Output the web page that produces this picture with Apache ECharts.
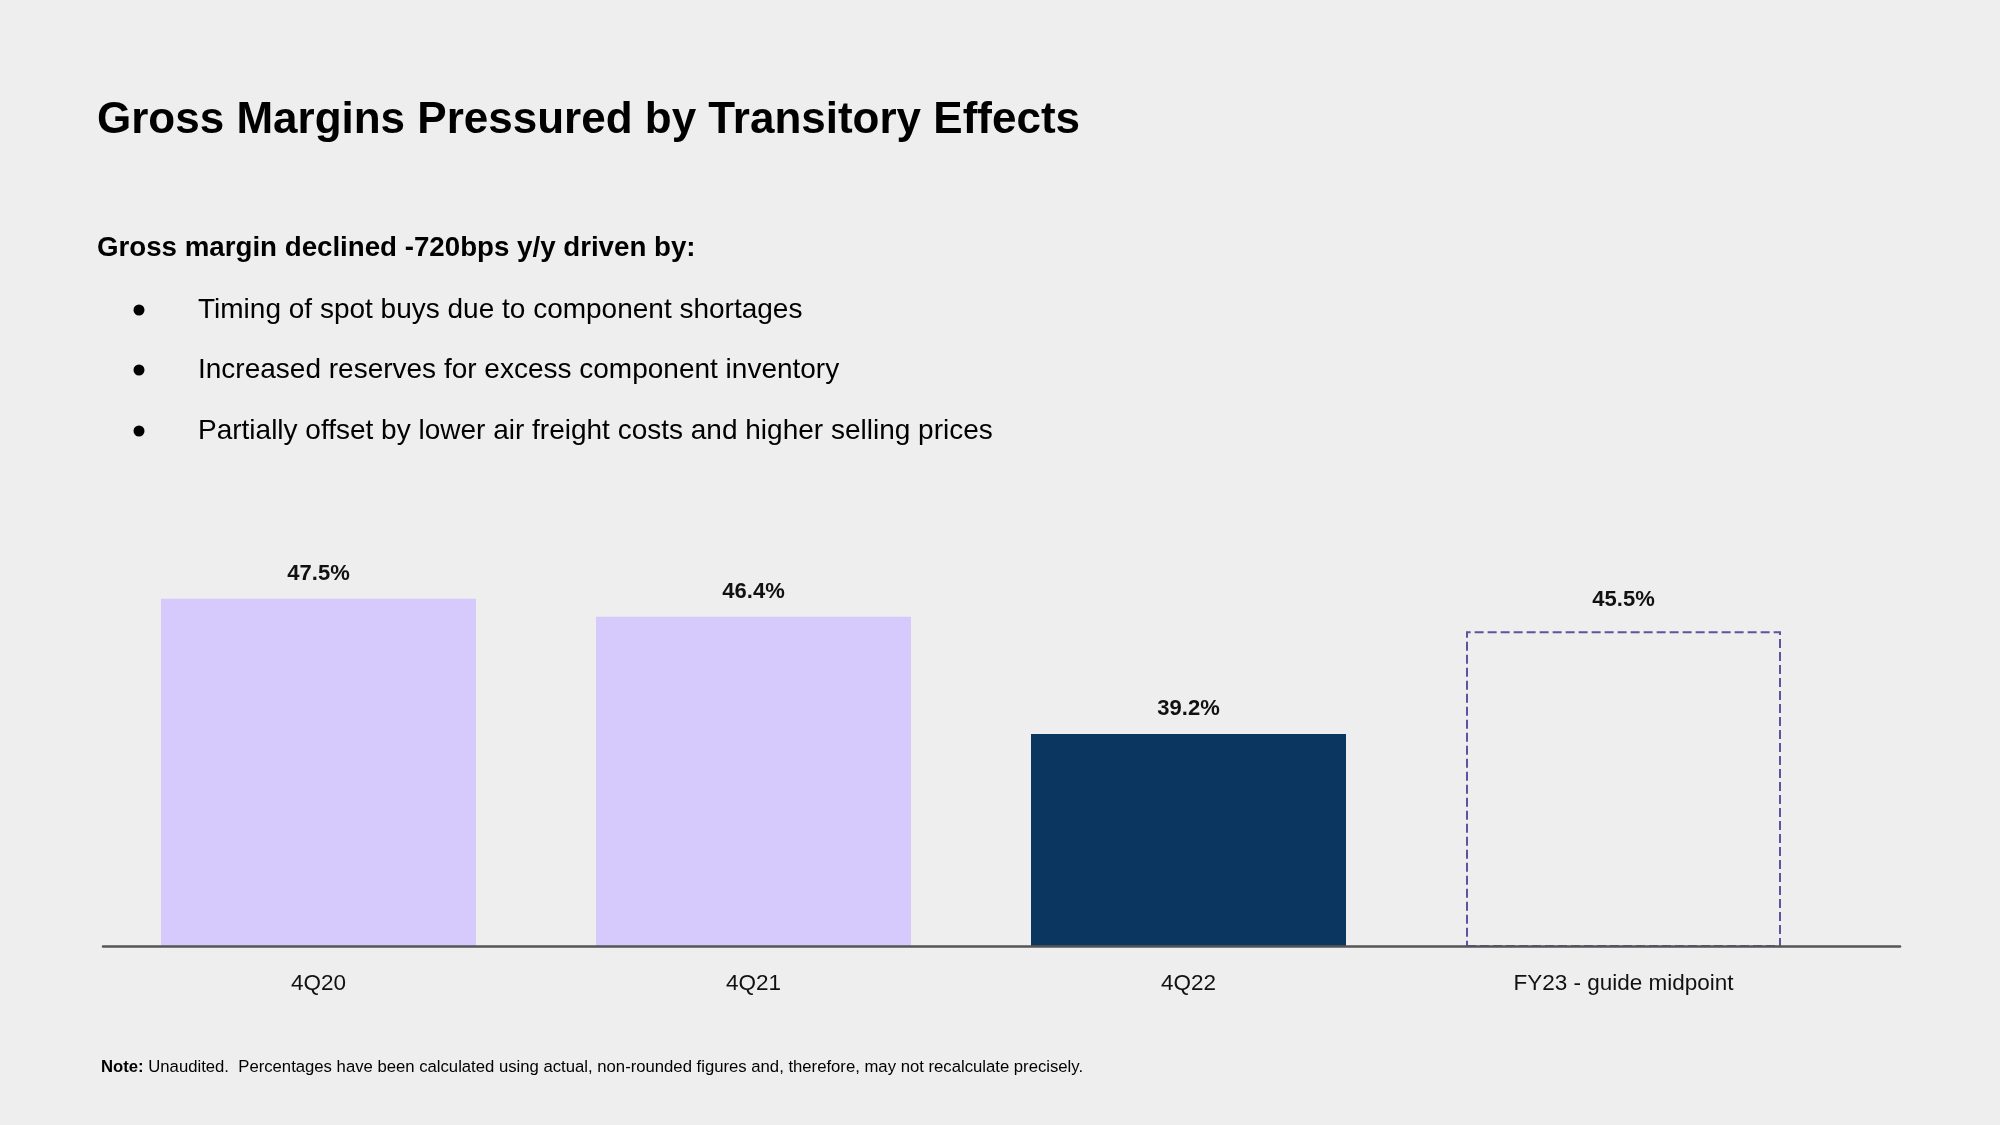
<!DOCTYPE html>
<html>
<head>
<meta charset="utf-8">
<script src="https://cdn.jsdelivr.net/npm/echarts@6/dist/echarts.min.js"></script>
<style>
html,body{margin:0;padding:0;background:#eeeeee;}
#chart{width:2000px;height:1125px;}
</style>
</head>
<body>
<div id="chart"></div>
<script>
const categories = ['4Q20', '4Q21', '4Q22', 'FY23 - guide midpoint'];
const values = [47.5, 46.4, 39.2, 45.5];
const valueLabels = ['47.5%', '46.4%', '39.2%', '45.5%'];
const titleText = 'Gross Margins Pressured by Transitory Effects';
const subtitleText = 'Gross margin declined -720bps y/y driven by:';
const bullets = [
  'Timing of spot buys due to component shortages',
  'Increased reserves for excess component inventory',
  'Partially offset by lower air freight costs and higher selling prices'
];
const noteText = 'Unaudited.  Percentages have been calculated using actual, non-rounded figures and, therefore, may not recalculate precisely.';

const FONT = '"Liberation Sans", Arial, Helvetica, sans-serif';
const LIGHT = '#d6c9fc';
const NAVY = '#0a3660';
const DASH = '#5a559e';

const barData = values.map((v, i) => {
  const item = { value: v, label: { formatter: valueLabels[i] } };
  if (i === 2) item.itemStyle = { color: NAVY };
  if (i === 3) {
    item.itemStyle = { color: 'rgba(0,0,0,0)', borderColor: DASH, borderWidth: 2, borderType: [9, 4] };
    item.label.distance = 20;
  }
  return item;
});

const bulletY = [310, 370, 431];
const graphics = [
  { type: 'text', x: 97, y: 121, style: { text: titleText, fill: '#000', font: 'bold 44px ' + FONT, verticalAlign: 'middle' } },
  { type: 'text', x: 97, y: 248, style: { text: subtitleText, fill: '#000', font: 'bold 27.7px ' + FONT, verticalAlign: 'middle' } }
];
bullets.forEach((b, i) => {
  graphics.push({ type: 'circle', shape: { cx: 139, cy: bulletY[i], r: 5.5 }, style: { fill: '#000' } });
  graphics.push({ type: 'text', x: 198, y: bulletY[i], style: { text: b, fill: '#000', font: '28px ' + FONT, verticalAlign: 'middle' } });
});
graphics.push({
  type: 'text', x: 101, y: 1067,
  style: {
    text: '{b|Note:} ' + noteText,
    fill: '#000', font: '16.7px ' + FONT, verticalAlign: 'middle',
    rich: { b: { fontWeight: 'bold', fontSize: 16.7, fontFamily: FONT, fill: '#000' } }
  }
});

const chart = echarts.init(document.getElementById('chart'), null, { renderer: 'canvas' });
chart.setOption({
  backgroundColor: '#eeeeee',
  animation: false,
  graphic: graphics,
  grid: [
    { left: 101, width: 1740, top: 558, height: 388 },
    { left: 103, width: 1797, top: 558, height: 388 }
  ],
  xAxis: [
    {
      type: 'category', gridIndex: 0, data: categories,
      axisLine: { show: false }, axisTick: { show: false },
      axisLabel: { color: '#111', fontSize: 22.5, fontFamily: FONT, margin: 26 }
    },
    {
      type: 'value', gridIndex: 1, min: 0, max: 1, z: 10,
      axisLine: { show: true, lineStyle: { color: '#555', width: 2.5 } },
      axisTick: { show: false }, axisLabel: { show: false }, splitLine: { show: false }
    }
  ],
  yAxis: [
    { type: 'value', gridIndex: 0, min: 26.2, max: 50, show: false, splitLine: { show: false } },
    { type: 'value', gridIndex: 1, min: 0, max: 1, show: false, splitLine: { show: false } }
  ],
  series: [{
    type: 'bar',
    xAxisIndex: 0, yAxisIndex: 0,
    data: barData,
    barWidth: 315,
    itemStyle: { color: LIGHT },
    label: {
      show: true, position: 'top', distance: 14,
      color: '#111', fontSize: 22, fontWeight: 'bold', fontFamily: FONT
    }
  }]
});
</script>
</body>
</html>
